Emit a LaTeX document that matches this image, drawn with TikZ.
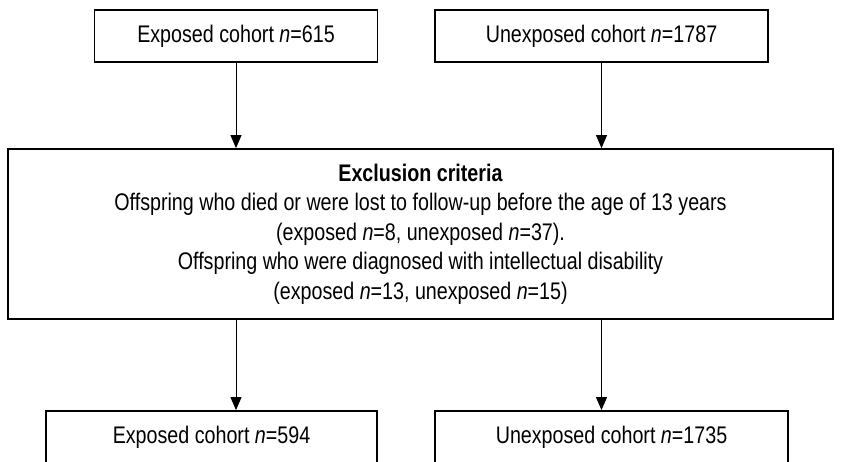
\documentclass[tikz,border=0pt]{standalone}
\usepackage{fontspec}
\setmainfont{Liberation Sans}[FakeStretch=0.82]
\usetikzlibrary{arrows.meta}
\begin{document}
\begin{tikzpicture}[x=1pt, y=-1pt,
        box/.style={draw, line width=1.8pt, minimum height=52pt, inner sep=0pt,
            font=\fontsize{24}{29.5}\selectfont},
        arr/.style={line width=0.9pt, -{Triangle[length=13pt, width=11pt]}}]
        \path[use as bounding box, clip] (0,0) rectangle (845,461);
        \node[box, minimum width=283pt] (expA) at (236, 36) {Exposed cohort \textit{n}=615};
        \node[box, minimum width=333pt] (unexA) at (601.5, 36) {Unexposed cohort \textit{n}=1787};
        \node[box, minimum width=825pt, minimum height=170pt, align=center] (excl) at (420.5, 234)
            {\textbf{Exclusion criteria}\\
             Offspring who died or were lost to follow-up before the age of 13 years\\
             (exposed \textit{n}=8, unexposed \textit{n}=37).\\
             Offspring who were diagnosed with intellectual disability\\
             (exposed \textit{n}=13, unexposed \textit{n}=15)};
        \node[box, minimum width=331pt] (expB) at (211.5, 437) {Exposed cohort \textit{n}=594};
        \node[box, minimum width=353pt] (unexB) at (611.5, 437) {Unexposed cohort \textit{n}=1735};
        \draw[arr] (expA.south) -- (expA.south |- excl.north);
        \draw[arr] (unexA.south) -- (unexA.south |- excl.north);
        \draw[arr] (expA.south |- excl.south) -- (expA.south |- expB.north);
        \draw[arr] (unexA.south |- excl.south) -- (unexA.south |- unexB.north);
    \end{tikzpicture}
\end{document}
